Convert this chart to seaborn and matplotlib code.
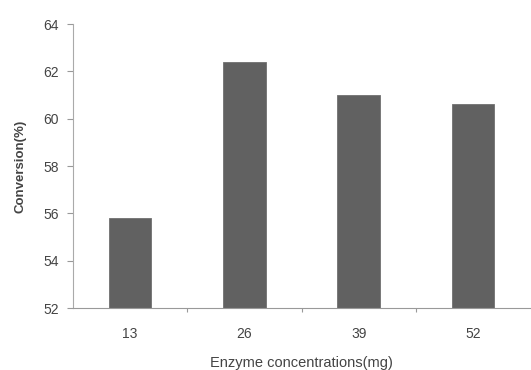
import matplotlib
matplotlib.use('Agg')
import matplotlib.pyplot as plt
import pandas as pd
import seaborn as sns

# 数据
enzyme_mg = ['13', '26', '39', '52']
conversion = [55.8, 62.4, 61.0, 60.6]
y_ticks = [52, 54, 56, 58, 60, 62, 64]

df = pd.DataFrame({'enzyme': enzyme_mg, 'conversion': conversion})

sns.set_style('white', {'xtick.bottom': True, 'ytick.left': True})
plt.rcParams['font.family'] = ['Liberation Sans Narrow', 'Liberation Sans', 'DejaVu Sans']

fig = plt.figure(figsize=(5.31, 3.70), dpi=100)
ax = fig.add_axes([73 / 531, 1 - 308 / 370, 457 / 531, 284 / 370])

sns.barplot(data=df, x='enzyme', y='conversion', color='#616161',
            width=0.37, edgecolor='#707070', linewidth=0.6, ax=ax)

ax.set_ylim(52, 64)
ax.set_xlim(-0.5, 3.5)
ax.set_yticks(y_ticks)
ax.set_yticklabels([str(t) for t in y_ticks], fontsize=10, color='#444444')
# 刻度放在类别之间
ax.set_xticks([0.5, 1.5, 2.5])
ax.set_xticklabels([])
for i, lab in enumerate(enzyme_mg):
    ax.text(i, 50.9, lab, ha='center', va='center', fontsize=10, color='#444444')

ax.tick_params(axis='y', length=4, width=0.8, color='#999999', pad=6, direction='out')
ax.tick_params(axis='x', length=3, width=0.8, color='#999999', direction='out')

ax.set_ylabel('Conversion(%)', fontsize=9.5, fontweight='bold', color='#444444', labelpad=12)
ax.set_xlabel('Enzyme concentrations(mg)', fontsize=10.5, color='#444444', labelpad=28)

for s in ['top', 'right']:
    ax.spines[s].set_visible(False)
ax.spines['left'].set_color('#aaaaaa')
ax.spines['bottom'].set_color('#999999')
ax.spines['left'].set_linewidth(0.8)
ax.spines['bottom'].set_linewidth(0.8)

fig.savefig('out.png', dpi=100, facecolor='white')
